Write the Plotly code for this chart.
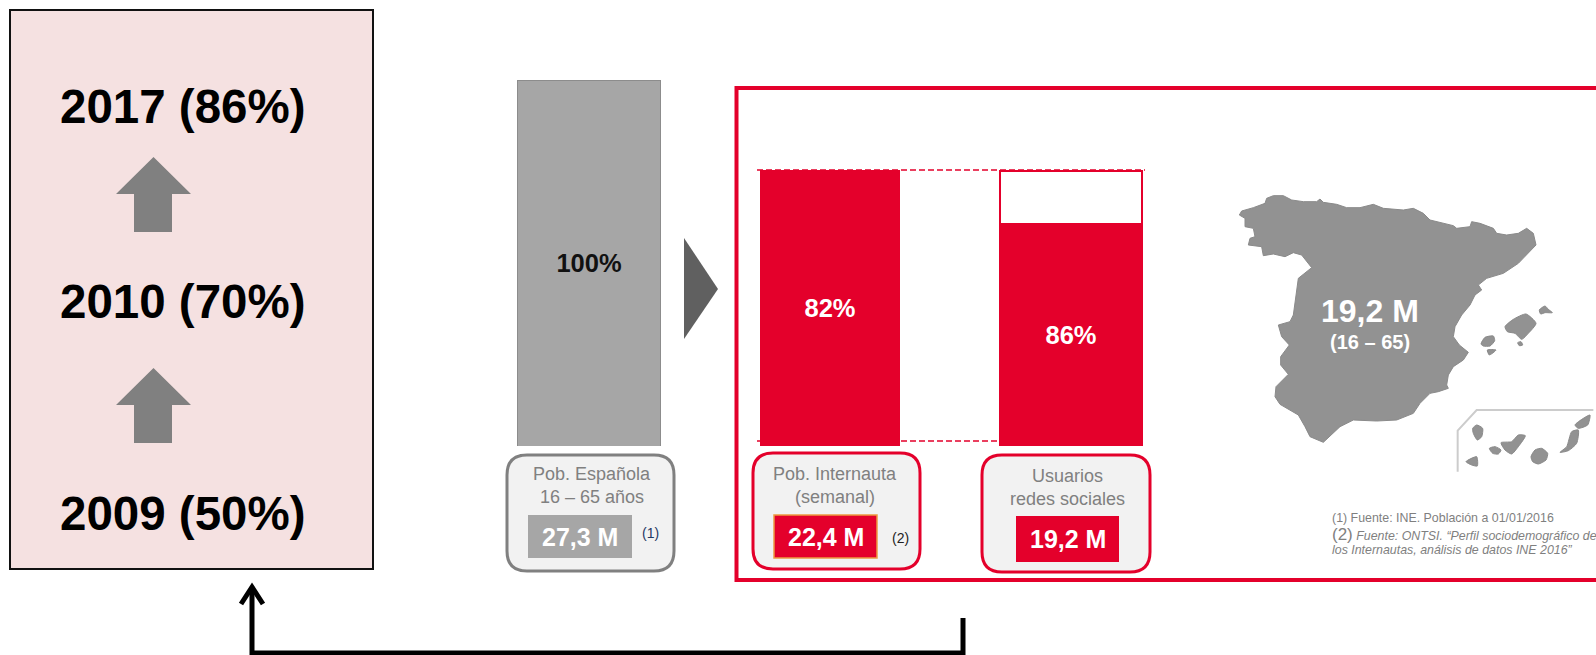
import plotly.graph_objects as go

# ---------- data ----------
years = ["2017", "2010", "2009"]
year_shares = ["86%", "70%", "50%"]
categories = ["Pob. Española", "Pob. Internauta", "Usuarios redes sociales"]
bar_heights = [100, 75.4, 60.7]
bar_remainder = [None, None, 14.5]
bar_labels = ["100%", "82%", "86%"]
box_lines = [["Pob. Española", "16 – 65 años"], ["Pob. Internauta", "(semanal)"], ["Usuarios", "redes sociales"]]
box_values = ["27,3 M", "22,4 M", "19,2 M"]
map_value = "19,2 M"
map_range = "(16 – 65)"
notes = ["(1) Fuente: INE. Población a 01/01/2016",
         "Fuente: ONTSI. “Perfil sociodemográfico de",
         "los Internautas, análisis de datos INE 2016”"]

# outline of the map, in four pieces
coast_north_west = [(28,90),(35,78),(70,68),(105,55),(110,40),(130,32),(160,32),(185,45),(220,50),(260,50),(270,42),
                    (280,52),(320,58),(350,68),(390,68),(430,58),(460,70),(480,72)]
coast_north_east = [(40,75),(70,70),(100,85),(120,105),(190,122),(200,130),(240,125),(245,110),(270,115),(310,130),
                    (320,145),(350,150),(385,145),(410,130),(430,145),(438,180),(415,205),(385,235),(340,265),(290,280),
                    (265,300),(275,315),(255,330),(240,360),(215,390)]
coast_east = [(105,110),(100,140),(118,165),(145,187),(130,210),(100,230),(85,255),(80,285),(85,295),(55,305),(30,310),(0,340)]
coast_south = [(460,295),(410,315),(350,318),(280,315),(240,335),(190,382),(150,365),(135,335),(115,300),(60,268),(45,245),
               (48,215),(85,178),(62,150),(62,125),(88,90),(65,65),(55,30),(90,20),(100,0)]
coast_west = [(198,330),(205,280),(245,248),(215,210),(190,203),(165,215),(130,207),(100,212),(95,185),(55,180),(60,160),
              (75,155),(70,130),(45,125),(45,100),(28,90)]
islands = [
    [(255,110),(280,88),(318,72),(348,100),(325,130),(305,148),(285,130),(262,125)],
    [(358,60),(375,48),(385,58),(397,68),(375,68),(362,72)],
    [(293,158),(303,155),(308,165),(298,167)],
    [(183,162),(195,142),(220,138),(224,152),(210,168),(190,168)],
    [(202,180),(228,180),(208,195)],
    [(465,405),(490,385),(510,375),(503,405),(475,415)],
    [(420,487),(440,470),(455,425),(475,420),(470,460),(445,482)],
    [(333,500),(345,480),(365,475),(383,490),(378,510),(355,522),(338,515)],
    [(243,458),(275,455),(295,435),(316,437),(295,470),(275,492),(255,480)],
    [(208,475),(225,470),(243,480),(235,492),(218,490)],
    [(158,415),(170,405),(188,415),(185,440),(172,450),(160,430)],
    [(138,515),(170,500),(172,528),(155,525)],
]
inset_line = [(113,545),(113,422),(170,360),(520,360)]

# ---------- style ----------
W, H = 1596, 655
FONT = "Liberation Sans"
RED = "#E4002B"
GRAY = "#A6A6A6"
TXT = "#808080"
MAP = "#929292"

def place(pts, ox, oy):
    return [(ox + p[0] / 3, oy + p[1] / 3) for p in pts]

shapes, ann = [], []

def rect(x0, y0, x1, y1, fill, line=None, lw=0, layer="below"):
    shapes.append(dict(type="rect", xref="x", yref="y", x0=x0, y0=y0, x1=x1, y1=y1,
                       fillcolor=fill, line=dict(color=line or fill, width=lw), layer=layer))

def path(d, fill=None, line=None, lw=0, layer="below", dash=None):
    shapes.append(dict(type="path", xref="x", yref="y", path=d, fillcolor=fill or "rgba(0,0,0,0)",
                       line=dict(color=line or "rgba(0,0,0,0)", width=lw, dash=dash), layer=layer))

def round_rect(x0, y0, x1, y1, r, fill, line, lw):
    d = (f"M{x0+r},{y0} L{x1-r},{y0} Q{x1},{y0} {x1},{y0+r} L{x1},{y1-r} Q{x1},{y1} {x1-r},{y1} "
         f"L{x0+r},{y1} Q{x0},{y1} {x0},{y1-r} L{x0},{y0+r} Q{x0},{y0} {x0+r},{y0} Z")
    path(d, fill, line, lw)

def text(x, y, s, size, color, bold=False, anchor="center"):
    ann.append(dict(x=x, y=y, xref="x", yref="y", text=f"<b>{s}</b>" if bold else s, showarrow=False,
                    xanchor=anchor, yanchor="middle", borderpad=0,
                    font=dict(family=FONT, size=size, color=color)))

# left panel
rect(10, 10, 373, 569, "#F5E1E1", "#111111", 2)
for yr, sh, y in zip(years, year_shares, [106, 301, 513]):
    text(182.5, y, f"{yr} ({sh})", 47.5, "#000000", True)
for top in [157, 368]:
    path(f"M153.5,{top} L191,{top+37} L172,{top+37} L172,{top+75} L134,{top+75} L134,{top+37} L116,{top+37} Z", "#808080")

# connector
path("M252,587 L252,653 L963,653 L963,618", None, "#000000", 5, "above")
path("M241,604 L252,587 L263,604", None, "#000000", 5, "above")

# red frame and triangle
path("M684,238 L718,289 L684,339 Z", "#606060")
rect(736.5, 88, 1640, 580, "#FFFFFF", RED, 4)

# info boxes
boxes = [(507, 455, 674, 571, "#808080", (528, 515, 632, 558), GRAY, None, 592, 474, 497),
         (753, 453, 920, 569, RED, (774, 515, 877, 558), RED, "#ED9B40", 835, 474, 497),
         (982, 455, 1150, 572, RED, (1016, 516, 1119, 562), RED, None, 1067, 476, 499)]
for b, lines, val in zip(boxes, box_lines, box_values):
    x0, y0, x1, y1, col, vr, vfill, vline, tx, ty1, ty2 = b
    round_rect(x0, y0, x1, y1, 20, "#F2F2F2", col, 3)
    rect(vr[0], vr[1], vr[2], vr[3], vfill, vline, 1.5 if vline else 0)
    text(tx, ty1, lines[0], 18, TXT)
    text(tx, ty2, lines[1], 18, TXT)
    text((vr[0] + vr[2]) / 2, (vr[1] + vr[3]) / 2, val, 25, "#FFFFFF", True)
text(650, 533, "(1)", 14, "#1F3864")
text(900, 538, "(2)", 14, "#222222")

# dashed guide lines
path("M757,170 L1145,170", None, RED, 1.5, "above", "6px,3px")
path("M757,441 L999,441", None, RED, 1.5, "above", "6px,3px")

# map labels
text(1370, 311, map_value, 32, "#FFFFFF", True)
text(1369.5, 342, map_range, 20, "#FFFFFF", True)

# footnotes
text(1331, 518, notes[0], 12.4, "#7F7F7F", anchor="left")
text(1331, 534, f'<span style="font-size:17px">(2)</span> <i>{notes[1]}</i>', 12.4, "#7F7F7F", anchor="left")
text(1331, 550, f"<i>{notes[2]}</i>", 12.4, "#7F7F7F", anchor="left")

fig = go.Figure()

# map (page axes)
mainland = (place(coast_north_west, 1230, 185) + place(coast_north_east, 1390, 185) + place(coast_east, 1420, 290)
            + place(coast_south, 1260, 315) + place(coast_west, 1230, 185))
fig.add_trace(go.Scatter(x=[p[0] for p in mainland], y=[p[1] for p in mainland], mode="lines", fill="toself",
                         fillcolor=MAP, line=dict(color="#8A8A8A", width=1), hoverinfo="skip", showlegend=False))
for poly in islands:
    pts = place(poly + poly[:1], 1420, 290)
    fig.add_trace(go.Scatter(x=[p[0] for p in pts], y=[p[1] for p in pts], mode="lines", fill="toself",
                             fillcolor=MAP, line=dict(color="#8A8A8A", width=1, shape="spline", smoothing=0.6),
                             hoverinfo="skip", showlegend=False))
pts = place(inset_line, 1420, 290)
fig.add_trace(go.Scatter(x=[p[0] for p in pts], y=[p[1] for p in pts], mode="lines",
                         line=dict(color="#CCCCCC", width=2), hoverinfo="skip", showlegend=False))

# bars (own axes)
bar_w = [0.59, 0.58, 0.59]
fig.add_trace(go.Bar(x=categories, y=bar_heights, xaxis="x2", yaxis="y2", width=bar_w,
                     marker=dict(color=[GRAY, RED, RED], line=dict(color=["#8C8C8C", RED, RED], width=1)),
                     text=bar_labels, textposition="inside", insidetextanchor="middle", textangle=0,
                     textfont=dict(family=FONT, size=25.5, color=["#111111", "#FFFFFF", "#FFFFFF"], weight="bold"),
                     constraintext="none", showlegend=False))
fig.add_trace(go.Bar(x=categories, y=bar_remainder, xaxis="x2", yaxis="y2", width=bar_w,
                     marker=dict(color="#FFFFFF", line=dict(color=RED, width=1.5)),
                     showlegend=False, hoverinfo="skip"))

fig.update_layout(
    width=W, height=H, autosize=False, margin=dict(l=0, r=0, t=0, b=0),
    paper_bgcolor="#FFFFFF", plot_bgcolor="rgba(0,0,0,0)", barmode="stack", showlegend=False,
    shapes=shapes, annotations=ann,
    xaxis=dict(range=[0, W], domain=[0, 1], visible=False, fixedrange=True),
    yaxis=dict(range=[H, 0], domain=[0, 1], visible=False, fixedrange=True),
    xaxis2=dict(type="category", categoryorder="array", categoryarray=categories, range=[-0.3, 2.3],
                domain=[516.7 / W, 1143.3 / W], anchor="y2", visible=False, fixedrange=True),
    yaxis2=dict(range=[0, 100], domain=[(H - 446) / H, (H - 80) / H], anchor="x2", visible=False, fixedrange=True),
)

fig.write_html("out.html", config=dict(displayModeBar=False),
               post_script="document.body.style.margin='0';document.body.style.overflow='hidden';")
